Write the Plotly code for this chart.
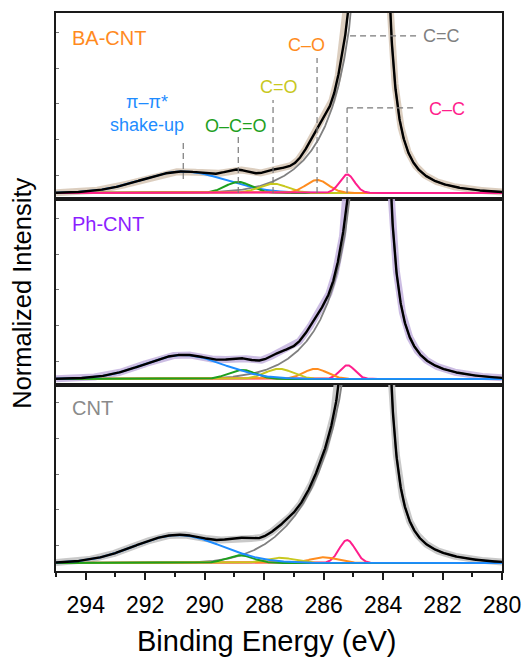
import numpy as np
import plotly.graph_objects as go
from plotly.subplots import make_subplots

# ---------------- data ----------------
samples = ["BA-CNT", "Ph-CNT", "CNT"]
sample_colors = ["#ff8a1e", "#8c1eff", "#8a8a8a"]
raw_colors = ["rgba(208,190,170,0.75)", "rgba(195,178,222,0.85)", "rgba(195,195,195,0.9)"]

comp_names = ["π–π* shake-up", "O–C=O", "C=O", "C–O", "C–C"]
comp_colors = ["#1e8cff", "#1ea01e", "#c8c81e", "#ff8c1e", "#ff1e8c"]

# component peak positions (eV), heights (normalized) and gaussian widths (eV)
ba_centers = [290.72, 288.87, 287.70, 286.22, 285.21]
ba_heights = [0.120, 0.062, 0.052, 0.073, 0.104]
ba_widths = [1.42, 0.44, 0.48, 0.38, 0.25]

ph_centers = [290.72, 288.75, 287.50, 286.28, 285.20]
ph_heights = [0.135, 0.051, 0.057, 0.057, 0.077]
ph_widths = [1.33, 0.45, 0.47, 0.40, 0.25]

cnt_centers = [290.90, 288.82, 287.46, 286.00, 285.21]
cnt_heights = [0.157, 0.043, 0.029, 0.032, 0.129]
cnt_widths = [1.46, 0.45, 0.50, 0.45, 0.27]

# asymmetric C=C (sp2) main peak parameters for BA-CNT, Ph-CNT, CNT
cc_center = [284.25, 284.25, 284.25]
cc_area = [0.285, 0.320, 0.320]
cc_core = [0.20, 0.20, 0.20]
cc_damp = [4.2, 4.2, 4.2]
cc_tail_amp = [1.33, 1.35, 1.71]
cc_tail_decay = [1.10, 1.10, 1.40]
cc_tail_cut = [5.5, 5.5, 5.3]

x_ticks = [294, 292, 290, 288, 286, 284, 282, 280]

# ---------------- line shapes ----------------
E = np.linspace(295, 280, 1501)


def gauss(c, h, s):
    return h * np.exp(-(E - c) ** 2 / (2 * s * s))


def cc_shape(i):
    d = E - cc_center[i]
    core = cc_area[i] / (d ** 2 + cc_core[i] ** 2) * np.exp(-(np.abs(d) / cc_damp[i]) ** 4)
    dp = np.clip(d, 0, None)
    tail = (cc_tail_amp[i] * (1 - np.exp(-dp / 0.2)) * np.exp(-dp / cc_tail_decay[i])
            * np.exp(-(dp / cc_tail_cut[i]) ** 4))
    return core + tail


params = [
    (ba_centers, ba_heights, ba_widths),
    (ph_centers, ph_heights, ph_widths),
    (cnt_centers, cnt_heights, cnt_widths),
]

fig = make_subplots(rows=3, cols=1, shared_xaxes=True, vertical_spacing=0)

for i, (cs, hs, ws) in enumerate(params):
    row = i + 1
    comps = [gauss(c, h, w) for c, h, w in zip(cs, hs, ws)]
    cc = cc_shape(i)
    env = cc + np.sum(comps, axis=0)
    fig.add_trace(go.Scatter(x=E, y=env, mode="lines", line=dict(color=raw_colors[i], width=7),
                             showlegend=False), row=row, col=1)
    fig.add_trace(go.Scatter(x=E, y=cc, mode="lines", line=dict(color="#808080", width=1.8),
                             showlegend=False), row=row, col=1)
    order = [0, 1, 2, 3, 4] if i == 0 else [4, 3, 2, 1, 0]
    for k in order:
        fig.add_trace(go.Scatter(x=E, y=comps[k], mode="lines",
                                 line=dict(color=comp_colors[k], width=2),
                                 name=comp_names[k], showlegend=False), row=row, col=1)
    fig.add_trace(go.Scatter(x=E, y=env, mode="lines", line=dict(color="black", width=2.4),
                             showlegend=False), row=row, col=1)

FONT = "Liberation Sans, Arial, sans-serif"
axis_line = dict(showline=True, linecolor="#1a1a1a", linewidth=1.8, mirror=True,
                 showgrid=False, zeroline=False, automargin=False)

for r in (1, 2, 3):
    fig.update_xaxes(range=[295, 280], row=r, col=1, **axis_line)
    yr = [-0.034, 1.011] if r < 3 else [-0.045, 1.0]
    fig.update_yaxes(range=yr, row=r, col=1, showticklabels=False, ticks="inside",
                     ticklen=3, tickwidth=1, tickcolor="#777",
                     tickvals=[0.1, 0.3, 0.5, 0.7, 0.9], **axis_line)
fig.update_xaxes(ticks="", showticklabels=False, row=1, col=1)
fig.update_xaxes(ticks="", showticklabels=False, row=2, col=1)
fig.update_xaxes(ticks="outside", ticklen=7, tickwidth=1.5, tickcolor="#1a1a1a",
                 tickvals=x_ticks, ticktext=[str(t) for t in x_ticks],
                 tickfont=dict(family=FONT, size=23, color="black"), ticklabelstandoff=5,
                 minor=dict(ticks="outside", ticklen=4, tickwidth=1.5, tickcolor="#1a1a1a", dtick=1),
                 row=3, col=1)

annotations = []
# sample labels
for i, name in enumerate(samples):
    yref = "y" if i == 0 else f"y{i+1}"
    annotations.append(dict(x=294.53, y=0.871, xref="x", yref=yref, text=name, showarrow=False,
                            xanchor="left", yanchor="middle",
                            font=dict(family=FONT, size=20, color=sample_colors[i])))

# peak labels in top panel
lab_x = [291.94, 288.96, 287.50, 286.57, 281.86]
lab_y = [0.447, 0.376, 0.596, 0.831, 0.472]
lab_text = ["π–π*<br>shake-up", "O–C=O", "C=O", "C–O", "C–C"]
for k in range(5):
    annotations.append(dict(x=lab_x[k], y=lab_y[k], xref="x", yref="y", text=lab_text[k],
                            showarrow=False, xanchor="center", yanchor="middle",
                            font=dict(family=FONT, size=18, color=comp_colors[k])))
annotations.append(dict(x=282.03, y=0.882, xref="x", yref="y", text="C=C", showarrow=False,
                        xanchor="center", yanchor="middle",
                        font=dict(family=FONT, size=18, color="#808080")))

# axis titles
annotations.append(dict(x=0.473, y=-0.125, xref="paper", yref="paper", text="Binding Energy (eV)",
                        showarrow=False, xanchor="center", yanchor="middle",
                        font=dict(family=FONT, size=29, color="black")))
annotations.append(dict(x=-0.077, y=0.498, xref="paper", yref="paper", text="Normalized Intensity",
                        showarrow=False, xanchor="center", yanchor="middle", textangle=-90,
                        font=dict(family=FONT, size=25.5, color="black")))

# dashed leader lines (top panel)
dash = dict(color="#7a7a7a", width=1.2, dash="6px,4px")
lead_x = [ba_centers[0], ba_centers[1], ba_centers[2], ba_centers[3], ba_centers[4]]
lead_top = [0.298, 0.315, 0.522, 0.758, 0.478]
lead_bot = [0.079, 0.0, 0.0, 0.0, 0.0]
shapes = []
for k in range(5):
    shapes.append(dict(type="line", xref="x", yref="y", x0=lead_x[k], x1=lead_x[k],
                       y0=lead_bot[k], y1=lead_top[k], line=dash))
shapes.append(dict(type="line", xref="x", yref="y", x0=ba_centers[4], x1=282.87,
                   y0=0.478, y1=0.478, line=dash))
shapes.append(dict(type="line", xref="x", yref="y", x0=285.11, x1=282.81,
                   y0=0.882, y1=0.882, line=dash))

fig.update_layout(width=525, height=662, margin=dict(l=56, r=23, t=13, b=91, autoexpand=False),
                  paper_bgcolor="white", plot_bgcolor="white", hovermode=False,
                  annotations=annotations, shapes=shapes, showlegend=False,
                  font=dict(family=FONT))

fig.write_html("out.html")
